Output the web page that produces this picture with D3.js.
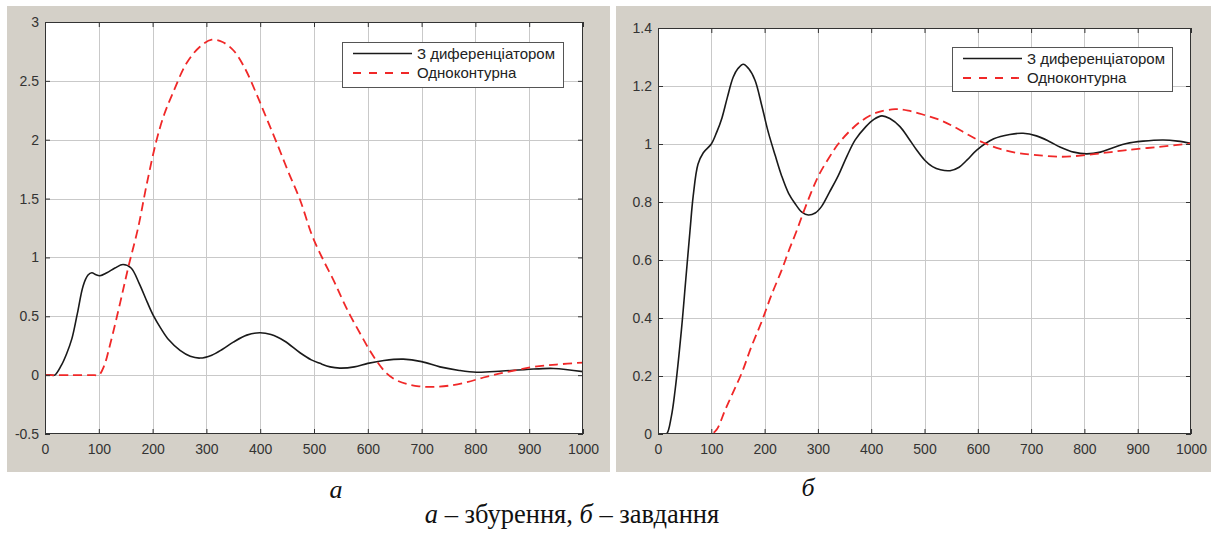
<!DOCTYPE html>
<html>
<head>
<meta charset="utf-8">
<script src="https://cdn.jsdelivr.net/npm/d3@7"></script>
<style>
  html, body { margin: 0; padding: 0; background: #ffffff; }
  svg { display: block; }
</style>
</head>
<body>
<svg id="chart" width="1211" height="535"></svg>
<script>
// ---------- DATA ----------
const seriesNames = ["З диференціатором", "Одноконтурна"];
const xTicks = [0, 100, 200, 300, 400, 500, 600, 700, 800, 900, 1000];
const leftYTicks = [-0.5, 0, 0.5, 1, 1.5, 2, 2.5, 3];
const rightYTicks = [0, 0.2, 0.4, 0.6, 0.8, 1, 1.2, 1.4];
const panelCaptions = ["а", "б"];
const mainCaption = "а – збурення, б – завдання";

// (a) disturbance — with differentiator
const aDiffT = [0, 10, 18, 30, 40, 50, 60, 71, 80, 87, 95, 102, 115, 130, 145, 160, 175, 190, 201, 215, 230, 251, 270, 288, 310, 330, 350, 375, 399, 420, 445, 474, 495, 511, 530, 548, 575, 600, 630, 666, 700, 734, 770, 802, 850, 895, 945, 1000];
const aDiffV = [0, 0, 0, 0.08, 0.18, 0.31, 0.52, 0.76, 0.85, 0.87, 0.852, 0.845, 0.87, 0.91, 0.94, 0.91, 0.78, 0.62, 0.51, 0.40, 0.30, 0.21, 0.16, 0.145, 0.17, 0.22, 0.28, 0.34, 0.36, 0.345, 0.29, 0.19, 0.13, 0.10, 0.07, 0.06, 0.07, 0.10, 0.125, 0.136, 0.115, 0.07, 0.04, 0.025, 0.035, 0.048, 0.057, 0.03];
// (a) disturbance — single loop
const aSingleT = [0, 50, 92, 100, 110, 121, 140, 155, 173, 189, 207, 222, 238, 263, 288, 310, 330, 350, 370, 393, 412, 431, 452, 474, 497, 517, 536, 552, 567, 585, 601, 618, 635, 652, 672, 695, 722, 750, 784, 815, 846, 878, 908, 950, 1000];
const aSingleV = [0, 0, 0, 0, 0.08, 0.26, 0.62, 0.92, 1.25, 1.62, 1.99, 2.22, 2.40, 2.65, 2.79, 2.85, 2.83, 2.76, 2.62, 2.39, 2.18, 1.97, 1.73, 1.49, 1.18, 0.98, 0.81, 0.65, 0.51, 0.36, 0.23, 0.11, 0.015, -0.04, -0.075, -0.095, -0.10, -0.09, -0.06, -0.02, 0.014, 0.045, 0.07, 0.09, 0.107];
// (б) setpoint — with differentiator
const bDiffT = [0, 8, 16, 25, 32, 44, 52, 60, 66, 75, 85, 100, 110, 120, 130, 141, 150, 160, 170, 182, 195, 207, 220, 232, 245, 257, 270, 282, 295, 307, 322, 338, 355, 370, 390, 405, 420, 435, 454, 470, 485, 500, 515, 530, 548, 565, 580, 598, 630, 660, 685, 710, 735, 754, 780, 804, 830, 855, 879, 910, 948, 975, 1000];
const bDiffV = [0, 0, 0, 0.06, 0.15, 0.36, 0.53, 0.70, 0.82, 0.93, 0.97, 1.00, 1.04, 1.09, 1.16, 1.23, 1.26, 1.275, 1.26, 1.22, 1.13, 1.04, 0.96, 0.89, 0.83, 0.795, 0.765, 0.755, 0.762, 0.785, 0.835, 0.89, 0.96, 1.014, 1.06, 1.085, 1.097, 1.088, 1.06, 1.02, 0.98, 0.945, 0.922, 0.911, 0.908, 0.92, 0.945, 0.979, 1.018, 1.033, 1.037, 1.028, 1.008, 0.99, 0.972, 0.966, 0.972, 0.988, 1.002, 1.01, 1.014, 1.01, 1.002];
// (б) setpoint — single loop
const bSingleT = [0, 50, 92, 100, 110, 126, 140, 157, 175, 195, 213, 232, 245, 260, 276, 301, 320, 338, 360, 382, 410, 445, 470, 500, 530, 555, 579, 610, 642, 672, 704, 754, 804, 840, 879, 940, 1000];
const bSingleV = [0, 0, 0, 0, 0.015, 0.083, 0.14, 0.21, 0.30, 0.39, 0.48, 0.565, 0.63, 0.70, 0.78, 0.89, 0.95, 1.00, 1.045, 1.08, 1.108, 1.12, 1.115, 1.10, 1.082, 1.06, 1.035, 1.005, 0.983, 0.97, 0.963, 0.956, 0.962, 0.97, 0.979, 0.99, 1.002];

// ---------- LAYOUT ----------
const svg = d3.select("#chart");
const BG = "#d4d0c8";
const TICK_FONT = "'Liberation Sans', Arial, sans-serif";
const SERIF_FONT = "'Liberation Serif', 'Times New Roman', 'DejaVu Serif', serif";

const panels = [
  { bg: [7, 6, 603, 466], plot: [45, 22, 583, 434], yDomain: [-0.5, 3], yTicks: leftYTicks,
    series: [[aDiffT, aDiffV], [aSingleT, aSingleV]],
    legend: { x: 342, y: 42, w: 221, h: 45 }, caption: { x: 336, y: 498, text: panelCaptions[0] } },
  { bg: [616, 6, 595, 466], plot: [658, 28, 1191, 434], yDomain: [0, 1.4], yTicks: rightYTicks,
    series: [[bDiffT, bDiffV], [bSingleT, bSingleV]],
    legend: { x: 952, y: 47, w: 220, h: 44 }, caption: { x: 808, y: 496, text: panelCaptions[1] } }
];

const styles = [
  { color: "#1a1a1a", width: 1.6, dash: null },
  { color: "#f02828", width: 1.8, dash: "9,5" }
];

panels.forEach((p, pi) => {
  const [bx, by, bw, bh] = p.bg;
  svg.append("rect").attr("x", bx).attr("y", by).attr("width", bw).attr("height", bh).attr("fill", BG);

  const [x0, y0, x1, y1] = p.plot;
  const x = d3.scaleLinear().domain([0, 1000]).range([x0, x1]);
  const y = d3.scaleLinear().domain(p.yDomain).range([y1, y0]);

  svg.append("rect").attr("x", x0).attr("y", y0).attr("width", x1 - x0).attr("height", y1 - y0).attr("fill", "#ffffff");

  // grid
  const grid = svg.append("g").attr("stroke", "#c9c9c9").attr("stroke-width", 1);
  xTicks.slice(1, -1).forEach(t => {
    grid.append("line").attr("x1", Math.round(x(t)) + 0.5).attr("x2", Math.round(x(t)) + 0.5).attr("y1", y0).attr("y2", y1);
  });
  p.yTicks.slice(1, -1).forEach(v => {
    grid.append("line").attr("x1", x0).attr("x2", x1).attr("y1", Math.round(y(v)) + 0.5).attr("y2", Math.round(y(v)) + 0.5);
  });

  // clip
  const clipId = "clip" + pi;
  svg.append("clipPath").attr("id", clipId).append("rect")
    .attr("x", x0).attr("y", y0 - 2).attr("width", x1 - x0).attr("height", y1 - y0 + 2);

  // curves
  const line = d3.line().x(d => x(d[0])).y(d => y(d[1])).curve(d3.curveCatmullRom.alpha(0.5));
  p.series.forEach((s, si) => {
    const pts = s[0].map((t, i) => [t, s[1][i]]);
    const st = styles[si];
    const path = svg.append("path").datum(pts)
      .attr("clip-path", `url(#${clipId})`)
      .attr("d", line).attr("fill", "none")
      .attr("stroke", st.color).attr("stroke-width", st.width)
      .attr("stroke-linejoin", "round");
    if (st.dash) path.attr("stroke-dasharray", st.dash);
  });

  // axes (ticks inside, all four sides)
  const styleAxis = g => {
    g.select(".domain").remove();
    g.selectAll(".tick line").attr("stroke", "#333").attr("stroke-width", 1);
    g.selectAll(".tick text").attr("fill", "#333").style("font-family", TICK_FONT).style("font-size", "14px");
  };
  svg.append("g").attr("transform", `translate(0,${y1})`)
    .call(d3.axisBottom(x).tickValues(xTicks).tickSize(-5).tickPadding(10).tickFormat(d => String(d)))
    .call(styleAxis);
  svg.append("g").attr("transform", `translate(0,${y0})`)
    .call(d3.axisTop(x).tickValues(xTicks).tickSize(-5).tickFormat(""))
    .call(styleAxis);
  svg.append("g").attr("transform", `translate(${x0},0)`)
    .call(d3.axisLeft(y).tickValues(p.yTicks).tickSize(-5).tickPadding(6).tickFormat(d => String(d)))
    .call(styleAxis);
  svg.append("g").attr("transform", `translate(${x1},0)`)
    .call(d3.axisRight(y).tickValues(p.yTicks).tickSize(-5).tickFormat(""))
    .call(styleAxis);

  // box
  svg.append("rect").attr("x", x0 + 0.5).attr("y", y0 + 0.5).attr("width", x1 - x0 - 1).attr("height", y1 - y0 - 1)
    .attr("fill", "none").attr("stroke", "#333").attr("stroke-width", 1);

  // legend
  const L = p.legend;
  const lg = svg.append("g");
  lg.append("rect").attr("x", L.x + 0.5).attr("y", L.y + 0.5).attr("width", L.w).attr("height", L.h)
    .attr("fill", "#ffffff").attr("stroke", "#555").attr("stroke-width", 1);
  seriesNames.forEach((name, si) => {
    const ly = L.y + 11.5 + si * 19.5;
    const st = styles[si];
    const ln = lg.append("line").attr("x1", L.x + 11).attr("x2", L.x + 70).attr("y1", ly).attr("y2", ly)
      .attr("stroke", st.color).attr("stroke-width", st.width);
    if (st.dash) ln.attr("stroke-dasharray", "8,8");
    lg.append("text").attr("x", L.x + 75).attr("y", ly + 5)
      .attr("fill", "#222").style("font-family", TICK_FONT).style("font-size", "15px")
      .text(name);
  });

  // panel caption
  svg.append("text").attr("x", p.caption.x).attr("y", p.caption.y).attr("text-anchor", "middle")
    .style("font-family", SERIF_FONT).style("font-style", "italic")
    .style("font-size", "26px").attr("fill", "#111").text(p.caption.text);
});

// main caption with italic letters
const cap = svg.append("text").attr("x", 572).attr("y", 523).attr("text-anchor", "middle")
  .style("font-family", SERIF_FONT).style("font-size", "26.5px").attr("fill", "#111");
const capParts = mainCaption.split(/(а(?= –)|б(?= –))/).filter(s => s.length);
capParts.forEach(part => {
  const ts = cap.append("tspan").style("font-family", SERIF_FONT).text(part);
  if (part === "а" || part === "б") ts.style("font-style", "italic");
});
</script>
</body>
</html>
